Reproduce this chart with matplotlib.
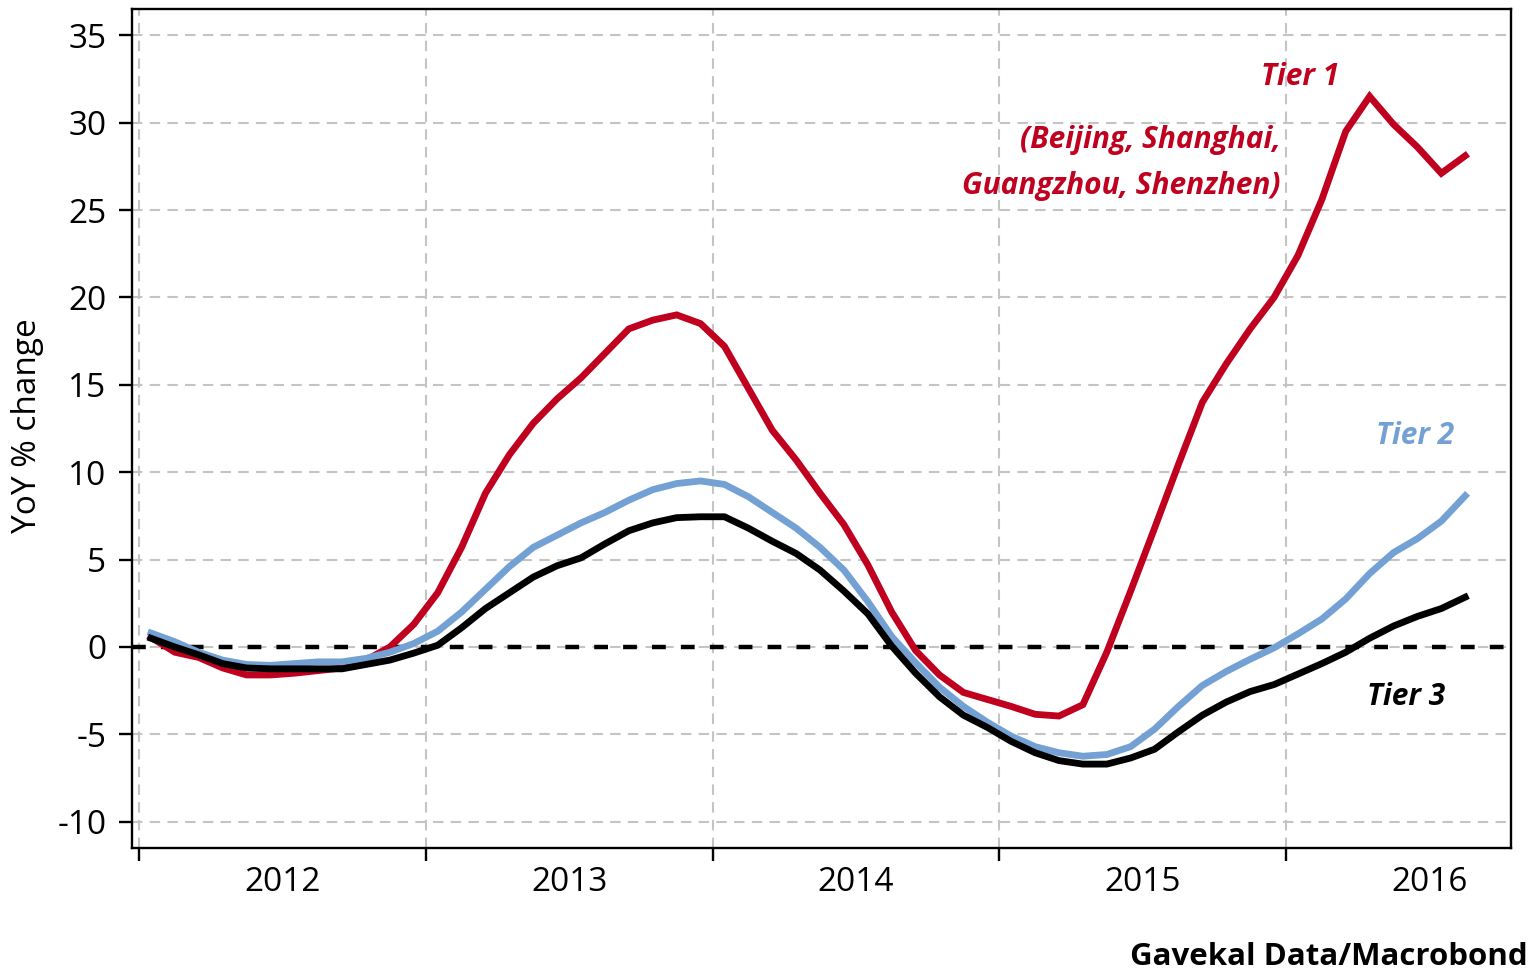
import matplotlib
matplotlib.use("Agg")
import matplotlib.pyplot as plt
import numpy as np
import pandas as pd

# ---- data (monthly, Jan 2012 .. Aug 2016) ----
start_month = "2012-01"
end_month = "2016-08"

tier1 = [0.55, -0.3, -0.6, -1.2, -1.6, -1.6, -1.5, -1.35, -1.2, -0.75, 0.0, 1.3,
         3.1, 5.7, 8.8, 11.0, 12.8, 14.2, 15.4, 16.8, 18.2, 18.7, 19.0, 18.5,
         17.2, 14.8, 12.4, 10.7, 8.8, 7.0, 4.7, 2.0, -0.2, -1.6, -2.6, -3.0,
         -3.4, -3.85, -3.95, -3.3, -0.3, 3.2, 6.8, 10.45, 14.0, 16.2, 18.2, 20.0,
         22.4, 25.6, 29.5, 31.5, 29.9, 28.6, 27.1, 28.1]
tier2 = [0.8, 0.3, -0.3, -0.75, -1.0, -1.05, -0.95, -0.85, -0.85, -0.65, -0.3, 0.2,
         0.9, 2.0, 3.3, 4.6, 5.7, 6.4, 7.1, 7.7, 8.4, 9.0, 9.35, 9.5,
         9.3, 8.6, 7.7, 6.8, 5.7, 4.4, 2.6, 0.6, -0.9, -2.3, -3.4, -4.3,
         -5.1, -5.7, -6.05, -6.25, -6.15, -5.7, -4.7, -3.4, -2.2, -1.4, -0.7, -0.05,
         0.75, 1.6, 2.75, 4.2, 5.4, 6.2, 7.2, 8.65]
tier3 = [0.5, 0.0, -0.45, -0.95, -1.2, -1.25, -1.25, -1.25, -1.25, -1.0, -0.75, -0.35,
         0.1, 1.1, 2.2, 3.1, 4.0, 4.65, 5.1, 5.9, 6.65, 7.1, 7.4, 7.45,
         7.45, 6.8, 6.05, 5.35, 4.4, 3.2, 1.9, 0.05, -1.5, -2.85, -3.9, -4.6,
         -5.4, -6.05, -6.5, -6.7, -6.7, -6.35, -5.85, -4.85, -3.9, -3.15, -2.55, -2.15,
         -1.55, -0.95, -0.3, 0.5, 1.2, 1.75, 2.2, 2.85]

year_labels = ["2012", "2013", "2014", "2015", "2016"]
y_ticks = [-10, -5, 0, 5, 10, 15, 20, 25, 30, 35]

red = "#C0001F"
blue = "#74A1D3"

font = "Open Sans"
plt.rcParams["font.family"] = [font, "DejaVu Sans"]

months = pd.period_range(start_month, end_month, freq="M")
x = months.year + (months.month - 0.5) / 12.0

fig = plt.figure(figsize=(15.3, 9.75), dpi=100)
ax = fig.add_axes([132 / 1530, 1 - 848 / 975, (1511 - 132) / 1530, (848 - 9) / 975])

years = [int(y) for y in year_labels]
ax.set_xlim(2012 - 7 / 286.75, 2016 + 225 / 286.75)
ax.set_ylim(-11.5, 36.5)

# grid
for yr in years:
    ax.axvline(yr, color="#C4C4C4", lw=1.5, dashes=(5, 3.5), zorder=0)
for yt in y_ticks:
    ax.axhline(yt, color="#C4C4C4", lw=1.5, dashes=(5, 3.5), zorder=0)

# zero line
ax.axhline(0, color="black", lw=3.2, dashes=(3.1, 3.4), zorder=1)

lw = 4.9
ax.plot(x, tier1, color=red, lw=lw, zorder=3, solid_joinstyle="miter")
ax.plot(x, tier2, color=blue, lw=lw, zorder=4, solid_joinstyle="miter")
ax.plot(x, tier3, color="black", lw=lw, zorder=5, solid_joinstyle="miter")

# ticks
ax.set_yticks(y_ticks)
ax.set_yticklabels([str(v) for v in y_ticks])
ax.set_xticks(years)
ax.set_xticklabels([])
ax.set_xticks([y + 0.5 for y in years], minor=True)
ax.set_xticklabels(year_labels, minor=True)
ax.tick_params(axis="x", which="major", direction="out", length=9, width=1.7, color="black")
ax.tick_params(axis="x", which="minor", length=0, labelsize=24, pad=13)
ax.tick_params(axis="y", direction="out", length=9.5, width=1.7, labelsize=24, pad=9)

for s in ax.spines.values():
    s.set_linewidth(1.7)
    s.set_color("black")

# labels
fig.text(28 / 1530, 1 - 426 / 975, "YoY % change", rotation=90, ha="center", va="center",
         fontsize=24)

lab = dict(fontsize=21.5, fontweight="bold", fontstyle="italic")
ax.text(2016.05, 32.6, "Tier 1", color=red, ha="center", va="center", **lab)
ax.text(2015.98, 29.0, "(Beijing, Shanghai,", color=red, ha="right", va="center", **lab)
ax.text(2015.98, 26.4, "Guangzhou, Shenzhen)", color=red, ha="right", va="center", **lab)
ax.text(2016.45, 12.07, "Tier 2", color=blue, ha="center", va="center", **lab)
ax.text(2016.42, -2.86, "Tier 3", color="black", ha="center", va="center", **lab)

fig.text(1528 / 1530, 10 / 975, "Gavekal Data/Macrobond", ha="right", va="baseline",
         fontsize=22.5, fontweight="bold")

fig.savefig("out.png", dpi=100)
